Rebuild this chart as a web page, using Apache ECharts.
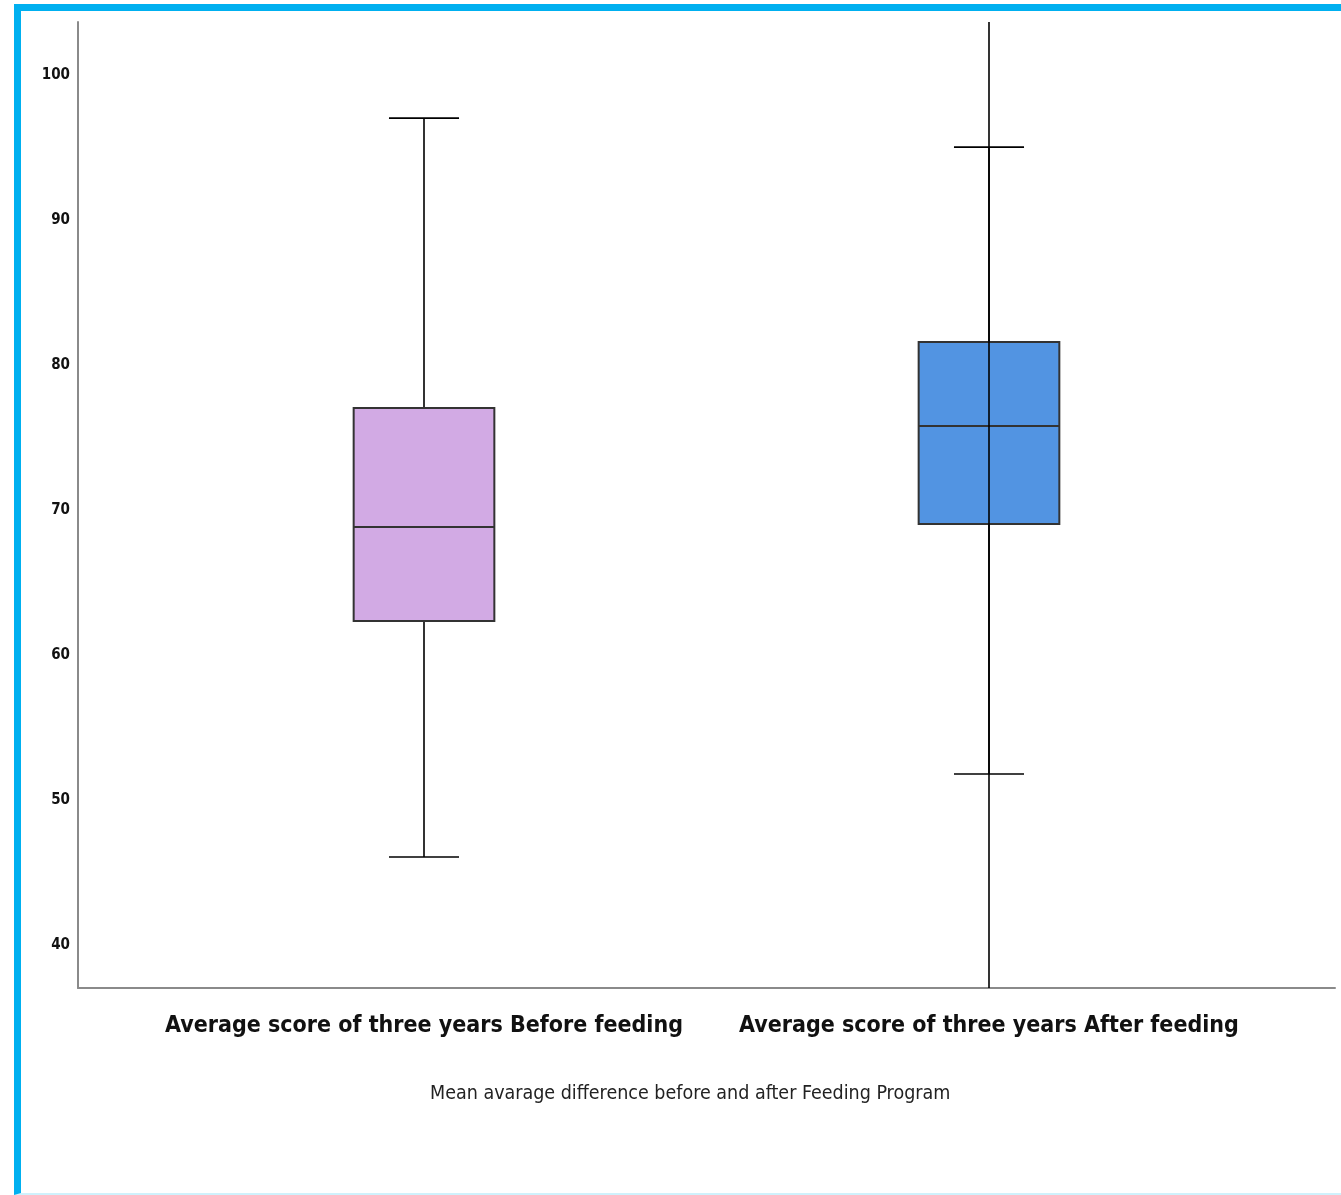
<!DOCTYPE html>
<html>
<head>
<meta charset="utf-8">
<script src="https://cdn.jsdelivr.net/npm/echarts@6/dist/echarts.min.js"></script>
<style>
  html, body { margin: 0; padding: 0; background: #fff; }
  #chart { position: absolute; left: 0; top: 0; width: 1341px; height: 1195px; }
  #frame { position: absolute; left: 14px; top: 4px; width: 1340px; height: 1182px;
           border-left: 7px solid #00B0F0; border-top: 7px solid #00B0F0;
           border-bottom: 2px solid #CFF1FC; pointer-events: none; }
</style>
</head>
<body>
<div id="chart"></div>
<div id="frame"></div>
<script>
const categories = ['Average score of three years Before feeding', 'Average score of three years After feeding'];
const positions = [1, 2];
const whiskerLow = [46.07, 51.79];
const q1 = [62.34, 69.03];
const median = [68.83, 75.79];
const q3 = [77.03, 81.59];
const whiskerHigh = [97.03, 95.03];
const boxColors = ['#D2AAE4', '#5294E2'];
const yTicks = [40, 50, 60, 70, 80, 90, 100];
const title = 'Mean avarage difference before and after Feeding Program';

const narrow = "'Liberation Sans Narrow', 'DejaVu Sans Condensed', 'Arial Narrow', sans-serif";

const data = positions.map((p, i) => [p, whiskerLow[i], q1[i], median[i], q3[i], whiskerHigh[i]]);

const chart = echarts.init(document.getElementById('chart'), null, { renderer: 'canvas' });
chart.setOption({
  animation: false,
  backgroundColor: 'transparent',
  title: {
    text: title,
    left: 425, top: 1079,
    textStyle: { fontFamily: narrow, fontWeight: 'normal', fontSize: 19.5, color: '#222' }
  },
  grid: { left: 78, right: 6, top: 22, bottom: 207, containLabel: false },
  xAxis: {
    type: 'value',
    min: 0.3876, max: 2.6124,
    axisLine: { show: true, lineStyle: { color: '#8a8a8a', width: 2 } },
    axisTick: { show: false },
    splitLine: { show: false },
    axisLabel: {
      customValues: positions,
      formatter: v => categories[positions.indexOf(v)] || '',
      margin: 27,
      fontFamily: narrow, fontWeight: 'bold', fontSize: 23, color: '#111'
    }
  },
  yAxis: {
    type: 'value',
    min: 37.03, max: 103.66,
    axisLine: { show: true, lineStyle: { color: '#8a8a8a', width: 2 } },
    axisTick: { show: false },
    splitLine: { show: false },
    axisLabel: {
      customValues: yTicks,
      margin: 8,
      fontFamily: narrow, fontWeight: 'bold', fontSize: 15, color: '#111'
    }
  },
  series: [{
    type: 'custom',
    data: data,
    encode: { x: 0, y: [1, 2, 3, 4, 5] },
    renderItem: function (params, api) {
      const x = api.value(0);
      const idx = params.dataIndex;
      const pLow = api.coord([x, api.value(1)]);
      const pQ1 = api.coord([x, api.value(2)]);
      const pMed = api.coord([x, api.value(3)]);
      const pQ3 = api.coord([x, api.value(4)]);
      const pHigh = api.coord([x, api.value(5)]);
      const boxW = api.size([0.249, 0])[0];
      const capW = api.size([0.124, 0])[0];
      const cx = pQ1[0];
      const wStyle = { stroke: '#000', lineWidth: 1.6 };
      const bStyle = { stroke: '#333', lineWidth: 2 };
      return {
        type: 'group',
        children: [
          { type: 'line', shape: { x1: cx, y1: pHigh[1], x2: cx, y2: pQ3[1] }, style: wStyle },
          { type: 'line', shape: { x1: cx, y1: pQ1[1], x2: cx, y2: pLow[1] }, style: wStyle },
          { type: 'line', shape: { x1: cx - capW / 2, y1: pHigh[1], x2: cx + capW / 2, y2: pHigh[1] }, style: wStyle },
          { type: 'line', shape: { x1: cx - capW / 2, y1: pLow[1], x2: cx + capW / 2, y2: pLow[1] }, style: wStyle },
          { type: 'rect', shape: { x: cx - boxW / 2, y: pQ3[1], width: boxW, height: pQ1[1] - pQ3[1] },
            style: { fill: boxColors[idx], stroke: '#333', lineWidth: 2 } },
          { type: 'line', shape: { x1: cx - boxW / 2, y1: pMed[1], x2: cx + boxW / 2, y2: pMed[1] }, style: bStyle }
        ]
      };
    },
    markLine: {
      silent: true,
      symbol: 'none',
      label: { show: false },
      lineStyle: { color: '#000', width: 1.6, type: 'solid' },
      data: [{ xAxis: positions[1] }]
    },
    z: 2
  }]
});
</script>
</body>
</html>
